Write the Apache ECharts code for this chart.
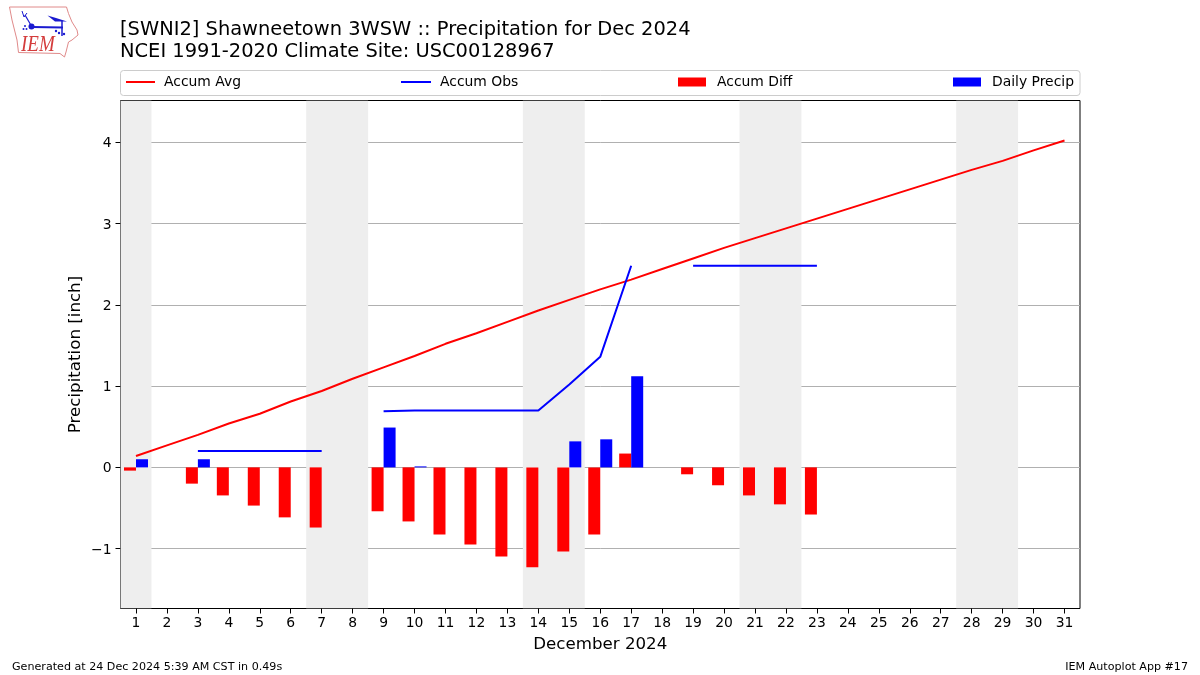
<!DOCTYPE html>
<html><head><meta charset="utf-8">
<script src="https://cdn.jsdelivr.net/npm/echarts@6/dist/echarts.min.js"></script>
<style>html,body{margin:0;padding:0;background:#fff}#c{width:1200px;height:675px}</style>
</head><body><div id="c"></div>
<script>
var days = ['1','2','3','4','5','6','7','8','9','10','11','12','13','14','15','16','17','18','19','20','21','22','23','24','25','26','27','28','29','30','31'];
var accumAvg = [0.14,0.27,0.40,0.54,0.66,0.81,0.94,1.09,1.23,1.37,1.52,1.65,1.79,1.93,2.06,2.19,2.31,2.44,2.57,2.70,2.82,2.94,3.06,3.18,3.30,3.42,3.54,3.66,3.77,3.90,4.02];
var accumObs = [null,null,0.20,0.20,0.20,0.20,0.20,null,0.69,0.70,0.70,0.70,0.70,0.70,1.02,1.36,2.48,null,2.48,2.48,2.48,2.48,2.48,null,null,null,null,null,null,null,null];
var accumDiff = [-0.04,null,-0.20,-0.345,-0.47,-0.615,-0.74,null,-0.54,-0.665,-0.825,-0.95,-1.095,-1.23,-1.035,-0.825,0.17,null,-0.085,-0.22,-0.345,-0.455,-0.58,null,null,null,null,null,null,null,null];
var dailyPrecip = [0.10,null,0.10,null,null,null,null,null,0.49,0.012,null,null,null,null,0.32,0.345,1.12,null,null,null,null,null,null,null,null,null,null,null,null,null,null];
var weekendBands = [[0,0],[6,7],[13,14],[20,21],[27,28]];
var yTicks = [-1,0,1,2,3,4];
var yMin = -1.736, yMax = 4.513;
var font = 'DejaVu Sans';
var logoBlue = '#1a1ad0';

function legendItem(name, left, isBar, width, pad){
  var item = isBar ? {name:name,icon:'rect'} : {name:name,itemStyle:{opacity:0}};
  return {left:left,top:75,padding:0,itemWidth:width,itemHeight:9,data:[item],
    textStyle:{fontFamily:font,fontSize:13.9,color:'#000',padding:[0,0,0,pad]}};
}

var chart = echarts.init(document.getElementById('c'), null, {renderer:'canvas'});
chart.setOption({
  animation:false,
  backgroundColor:'#fff',
  textStyle:{fontFamily:font},
  title:[
    {text:'[SWNI2] Shawneetown 3WSW :: Precipitation for Dec 2024\nNCEI 1991-2020 Climate Site: USC00128967',left:120,top:19,padding:0,
     textStyle:{fontFamily:font,fontSize:19.45,fontWeight:'normal',color:'#000',lineHeight:22}},
    {text:'Generated at 24 Dec 2024 5:39 AM CST in 0.49s',left:12,top:662,padding:0,textStyle:{fontFamily:font,fontSize:11.11,fontWeight:'normal',color:'#000'}},
    {text:'IEM Autoplot App #17',right:12,top:662,padding:0,textStyle:{fontFamily:font,fontSize:11.11,fontWeight:'normal',color:'#000'}}
  ],
  legend:[legendItem('Accum Avg',125,false,29,4),legendItem('Accum Obs',400,false,30,4),legendItem('Accum Diff',678,true,28,6),legendItem('Daily Precip',953,true,28,6)],
  grid:{left:120.5,right:120,top:100.5,height:508,containLabel:false,show:true,borderColor:'#000',borderWidth:1,backgroundColor:'transparent'},
  xAxis:{type:'category',data:days,boundaryGap:true,position:'bottom',
    name:'December 2024',nameLocation:'middle',nameGap:28,nameTextStyle:{fontFamily:font,fontSize:16.67,color:'#000'},
    axisLine:{show:false,onZero:false},axisTick:{show:true,alignWithLabel:true,length:5,lineStyle:{color:'#000'}},
    axisLabel:{interval:0,color:'#000',fontFamily:font,fontSize:13.9,margin:8},splitLine:{show:false}},
  yAxis:{type:'value',min:yMin,max:yMax,
    name:'Precipitation [inch]',nameLocation:'middle',nameGap:36.5,nameMoveOverlap:false,nameTextStyle:{fontFamily:font,fontSize:16.67,color:'#000'},
    axisLine:{show:false},
    axisTick:{show:true,length:5,lineStyle:{color:'#000'},customValues:yTicks},
    axisLabel:{color:'#000',fontFamily:font,fontSize:13.9,margin:9,customValues:yTicks,
      formatter:function(v){return '{t|'+(v<0?'\u2212'+Math.abs(v):String(v))+'}';},
      rich:{t:{fontFamily:font,fontSize:13.9,color:'#000',padding:[3,0,0,0]}}},
    splitLine:{show:true,lineStyle:{color:'#b0b0b0',width:1}}},
  series:[
    {type:'custom',name:'weekend',silent:true,z:0,clip:true,data:weekendBands,encode:{x:0,y:-1},
     renderItem:function(params,api){
       var w=api.size([1,0])[0];
       var a=api.coord([api.value(0),yMax]);
       var b=api.coord([api.value(1),yMin]);
       return {type:'rect',shape:{x:a[0]-w/2,y:a[1],width:b[0]-a[0]+w,height:b[1]-a[1]},style:{fill:'#eeeeee'}};
     }},
    {type:'line',name:'Accum Avg',data:accumAvg,symbol:'none',z:5,connectNulls:false,lineStyle:{color:'#ff0000',width:2},itemStyle:{color:'#ff0000'}},
    {type:'line',name:'Accum Obs',data:accumObs,symbol:'none',z:5,connectNulls:false,lineStyle:{color:'#0000ff',width:2},itemStyle:{color:'#0000ff'}},
    {type:'bar',name:'Accum Diff',data:accumDiff,barWidth:12,barGap:0,z:3,itemStyle:{color:'#ff0000'}},
    {type:'bar',name:'Daily Precip',data:dailyPrecip,barWidth:12,barGap:0,z:3,itemStyle:{color:'#0000ff'}}
  ],
  graphic:[
    {type:'rect',z:-1,silent:true,shape:{x:120.5,y:70.5,width:959.5,height:25,r:3},style:{fill:'#fff',stroke:'#cccccc',lineWidth:1}},
    {type:'polygon',silent:true,shape:{points:[[9.5,7],[66.5,7],[68.5,13.5],[72,22],[77,30],[78,35],[72,40],[68.5,42],[66,52],[64.5,57],[60,53.5],[18.5,52.5],[17,40],[12,20]]},style:{fill:'none',stroke:'#e08a8a',lineWidth:1}},
    {type:'polyline',silent:true,shape:{points:[[32,27],[63,27.5]]},style:{fill:'none',stroke:logoBlue,lineWidth:2}},
    {type:'polyline',silent:true,shape:{points:[[62,21],[62,36]]},style:{fill:'none',stroke:logoBlue,lineWidth:1.5}},
    {type:'polyline',silent:true,shape:{points:[[25,15],[32,27]]},style:{fill:'none',stroke:logoBlue,lineWidth:1.2}},
    {type:'polyline',silent:true,shape:{points:[[22,11],[24,17],[27,13]]},style:{fill:'none',stroke:logoBlue,lineWidth:1}},
    {type:'polygon',silent:true,shape:{points:[[47.5,15.5],[56,18],[67,21.5],[55,21.5]]},style:{fill:logoBlue}},
    {type:'circle',silent:true,shape:{cx:31.5,cy:26.5,r:3},style:{fill:logoBlue}},
    {type:'circle',silent:true,shape:{cx:25,cy:26,r:1},style:{fill:logoBlue}},
    {type:'circle',silent:true,shape:{cx:23.5,cy:29,r:1},style:{fill:logoBlue}},
    {type:'circle',silent:true,shape:{cx:26.5,cy:29,r:1},style:{fill:logoBlue}},
    {type:'circle',silent:true,shape:{cx:56,cy:31,r:1.2},style:{fill:logoBlue}},
    {type:'circle',silent:true,shape:{cx:59,cy:33,r:1.2},style:{fill:logoBlue}},
    {type:'circle',silent:true,shape:{cx:64,cy:34,r:1.2},style:{fill:logoBlue}},
    {type:'text',silent:true,originX:21,originY:53,scaleY:1.2,style:{x:21,y:37,text:'IEM',fill:'#d43c3c',font:'italic 19px "Liberation Serif"'}}
  ]
});
</script></body></html>
